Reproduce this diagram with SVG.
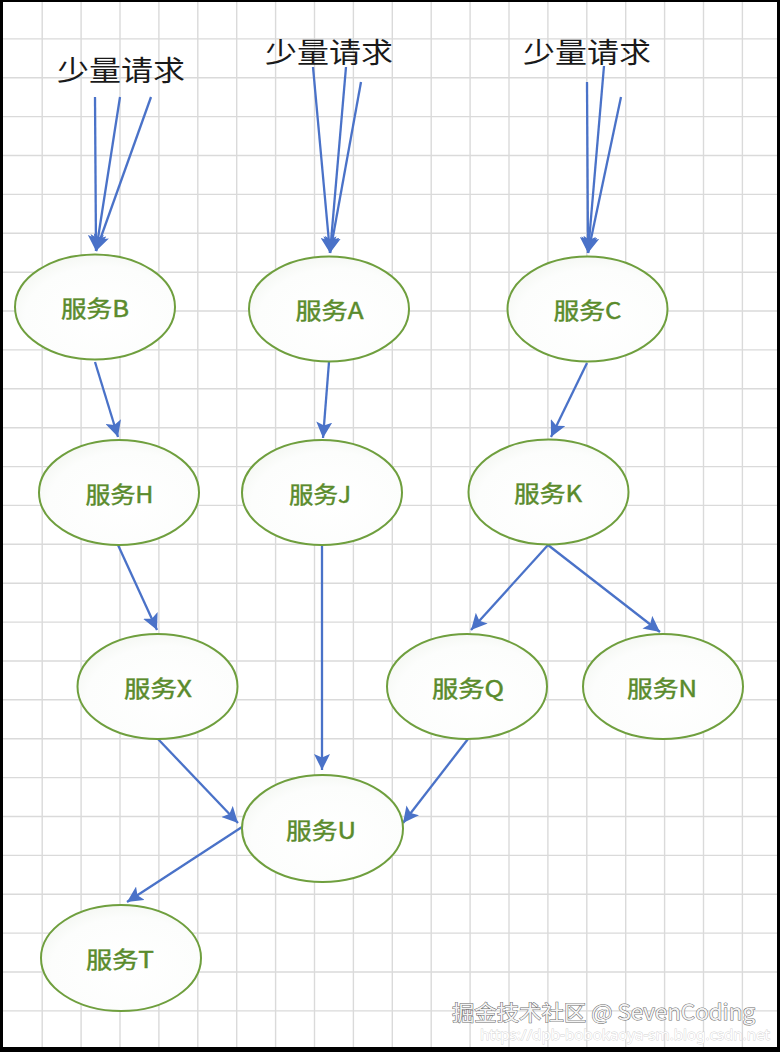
<svg xmlns="http://www.w3.org/2000/svg" width="780" height="1052" viewBox="0 0 780 1052">
  <style>
    .grid { stroke: #dadada; stroke-width: 1.4; fill: none; }
    .node ellipse { fill: url(#nodeFill); stroke: #6f9f3e; stroke-width: 2; }
    .node text { font-family: "Noto Sans CJK SC", "Noto Sans", sans-serif; font-size: 23px; font-weight: 400; fill: #5a8b2c; stroke: #5a8b2c; stroke-width: 0.45; text-anchor: middle; }
    .req { font-family: "Noto Sans CJK SC", sans-serif; font-size: 28px; fill: #1a1a1a; }
    .conn line { stroke: #4a72c8; stroke-width: 2.3; marker-end: url(#arrow); }
    .wm { font-family: "Noto Sans CJK SC", "Noto Sans", sans-serif; font-size: 21px; fill: #f4f4f4; stroke: #6a6a6a; stroke-width: 1; paint-order: stroke; }
    .url { font-family: "Noto Sans", sans-serif; font-size: 15px; fill: #ffffff; stroke: #d2d2d2; stroke-width: 0.8; paint-order: stroke; }
  </style>
  <defs>
    <radialGradient id="nodeFill" cx="0.55" cy="0.6" r="0.65">
      <stop offset="0" stop-color="#ffffff"/>
      <stop offset="0.75" stop-color="#fcfdfc"/>
      <stop offset="1" stop-color="#f3f6f1"/>
    </radialGradient>
    <marker id="arrow" markerUnits="userSpaceOnUse" markerWidth="17" markerHeight="16" refX="16" refY="8" orient="auto">
      <path d="M0,0 L16,8 L0,16 L3.5,8 z" fill="#4a72c8"/>
    </marker>
  </defs>

  <rect x="0" y="0" width="780" height="1052" fill="#ffffff"/>

  <g id="grid">
    <path class="grid" d="M42.2,0V1052 M81.1,0V1052 M120,0V1052 M158.9,0V1052 M197.8,0V1052 M236.7,0V1052 M275.6,0V1052 M314.5,0V1052 M353.4,0V1052 M392.3,0V1052 M431.2,0V1052 M470.1,0V1052 M509,0V1052 M547.9,0V1052 M586.8,0V1052 M625.7,0V1052 M664.6,0V1052 M703.5,0V1052 M742.4,0V1052"/>
    <path class="grid" d="M0,38.9H780 M0,77.8H780 M0,116.6H780 M0,155.5H780 M0,194.4H780 M0,233.3H780 M0,272.2H780 M0,311H780 M0,349.9H780 M0,388.8H780 M0,427.7H780 M0,466.6H780 M0,505.4H780 M0,544.3H780 M0,583.2H780 M0,622.1H780 M0,661H780 M0,699.8H780 M0,738.7H780 M0,777.6H780 M0,816.5H780 M0,855.4H780 M0,894.2H780 M0,933.1H780 M0,972H780 M0,1010.9H780"/>
  </g>

  <g id="labels">
    <text class="req" x="57" y="81" textLength="128" lengthAdjust="spacingAndGlyphs">少量请求</text>
    <text class="req" x="265" y="63" textLength="128" lengthAdjust="spacingAndGlyphs">少量请求</text>
    <text class="req" x="523" y="63" textLength="128" lengthAdjust="spacingAndGlyphs">少量请求</text>
  </g>

  <g id="connectors" class="conn">
    <line x1="95" y1="97" x2="96" y2="251"/>
    <line x1="120" y1="97" x2="96" y2="251"/>
    <line x1="151" y1="97" x2="96" y2="251"/>
    <line x1="313" y1="67" x2="330" y2="253"/>
    <line x1="346" y1="67" x2="330" y2="253"/>
    <line x1="361" y1="82" x2="330" y2="253"/>
    <line x1="587" y1="82" x2="588" y2="253"/>
    <line x1="604" y1="66" x2="588" y2="253"/>
    <line x1="621" y1="97" x2="588" y2="253"/>
    <line x1="95" y1="362" x2="118" y2="437"/>
    <line x1="329" y1="362" x2="323" y2="438"/>
    <line x1="587" y1="363" x2="551" y2="437"/>
    <line x1="118" y1="545" x2="157" y2="630"/>
    <line x1="322" y1="545" x2="322" y2="770"/>
    <line x1="548" y1="545" x2="471" y2="630"/>
    <line x1="548" y1="545" x2="660" y2="632"/>
    <line x1="158" y1="739" x2="238" y2="823"/>
    <line x1="468" y1="739" x2="403" y2="823"/>
    <line x1="242" y1="827" x2="127" y2="902"/>
  </g>

  <g id="node-B" class="node"><ellipse cx="95" cy="307" rx="80" ry="52.5"/><text x="95" y="317" textLength="68" lengthAdjust="spacingAndGlyphs">服务B</text></g>
  <g id="node-A" class="node"><ellipse cx="329" cy="309" rx="80" ry="52.5"/><text x="329.5" y="319" textLength="68" lengthAdjust="spacingAndGlyphs">服务A</text></g>
  <g id="node-C" class="node"><ellipse cx="587.5" cy="309" rx="80" ry="52.5"/><text x="587.5" y="319" textLength="68" lengthAdjust="spacingAndGlyphs">服务C</text></g>
  <g id="node-H" class="node"><ellipse cx="119" cy="492.5" rx="80" ry="52.5"/><text x="119.5" y="502.5" textLength="68" lengthAdjust="spacingAndGlyphs">服务H</text></g>
  <g id="node-J" class="node"><ellipse cx="322" cy="492.5" rx="80" ry="52.5"/><text x="320" y="502.5" textLength="62" lengthAdjust="spacingAndGlyphs">服务J</text></g>
  <g id="node-K" class="node"><ellipse cx="548.5" cy="492" rx="80" ry="52.5"/><text x="548" y="502" textLength="68" lengthAdjust="spacingAndGlyphs">服务K</text></g>
  <g id="node-X" class="node"><ellipse cx="157.5" cy="686.5" rx="80" ry="52.5"/><text x="158" y="696.5" textLength="68" lengthAdjust="spacingAndGlyphs">服务X</text></g>
  <g id="node-Q" class="node"><ellipse cx="467" cy="686.5" rx="80" ry="52.5"/><text x="468" y="696.5" textLength="72" lengthAdjust="spacingAndGlyphs">服务Q</text></g>
  <g id="node-N" class="node"><ellipse cx="663" cy="686.5" rx="80" ry="52.5"/><text x="662" y="696.5" textLength="70" lengthAdjust="spacingAndGlyphs">服务N</text></g>
  <g id="node-U" class="node"><ellipse cx="322.5" cy="828.5" rx="80.5" ry="53.5"/><text x="321" y="838.5" textLength="70" lengthAdjust="spacingAndGlyphs">服务U</text></g>
  <g id="node-T" class="node"><ellipse cx="121" cy="958" rx="80" ry="53"/><text x="120" y="968" textLength="68" lengthAdjust="spacingAndGlyphs">服务T</text></g>

  <g id="watermark">
    <text class="wm" x="452" y="1020" textLength="303" lengthAdjust="spacingAndGlyphs">掘金技术社区 @ SevenCoding</text>
    <text class="url" x="480" y="1040" textLength="290" lengthAdjust="spacingAndGlyphs">https://dpb-bobokaoya-sm.blog.csdn.net</text>
  </g>

  <g id="frame" fill="#000000">
    <rect x="0" y="0" width="3" height="1052"/>
    <rect x="0" y="0" width="780" height="2"/>
    <rect x="777" y="0" width="3" height="1052"/>
    <rect x="0" y="1047" width="780" height="5"/>
  </g>
</svg>
